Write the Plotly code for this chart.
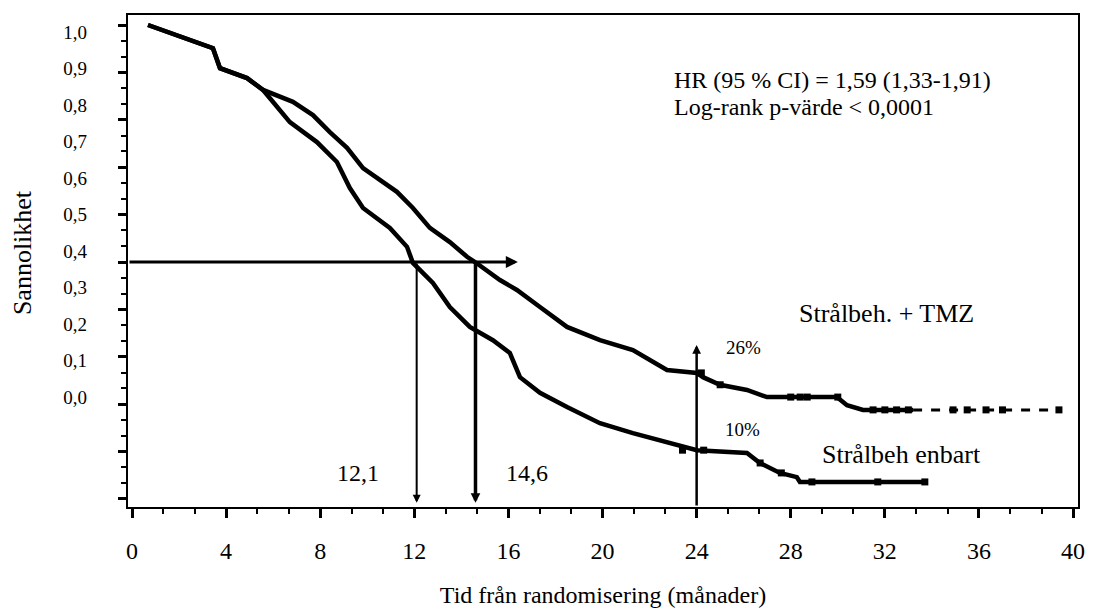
import plotly.graph_objects as go

# ---- data (months, survival probability) ----
tmz_t = [0.68, 3.44, 3.74, 4.89, 5.57, 6.84, 7.69, 8.41, 9.14, 9.82, 11.26, 11.94, 12.66,
         13.51, 14.24, 14.58, 15.64, 16.36, 17.34, 18.49, 19.89, 21.29, 22.74, 24.01,
         24.27, 24.99, 26.14, 26.99, 29.96, 30.39, 31.07, 33.2]
tmz_s = [1.000, 0.951, 0.909, 0.888, 0.863, 0.838, 0.810, 0.774, 0.741, 0.698, 0.648, 0.614,
         0.572, 0.542, 0.511, 0.500, 0.462, 0.441, 0.405, 0.363, 0.335, 0.314, 0.272, 0.266,
         0.257, 0.241, 0.230, 0.215, 0.215, 0.198, 0.188, 0.188]
tmz_tail_t = [33.2, 39.44]
tmz_tail_s = [0.188, 0.188]
tmz_cens_t = [24.2, 25.0, 28.0, 28.4, 28.7, 30.0, 31.5, 32.0, 32.5, 33.0, 34.9, 35.5, 36.3, 37.0, 39.4]
tmz_cens_s = [0.266, 0.241, 0.215, 0.215, 0.215, 0.215, 0.188, 0.188, 0.188, 0.188, 0.188,
              0.188, 0.188, 0.188, 0.188]

rt_t = [0.68, 3.44, 3.74, 4.89, 5.57, 5.99, 6.71, 7.86, 8.71, 9.26, 9.82, 10.96, 11.69, 11.94,
        12.79, 13.51, 14.36, 15.34, 16.06, 16.49, 17.34, 18.49, 19.89, 21.29, 22.74, 24.01,
        26.14, 26.69, 27.54, 28.26, 28.39, 33.79]
rt_s = [1.000, 0.951, 0.909, 0.888, 0.863, 0.838, 0.795, 0.753, 0.711, 0.656, 0.614, 0.572,
        0.532, 0.498, 0.456, 0.405, 0.363, 0.335, 0.308, 0.257, 0.224, 0.194, 0.160, 0.139,
        0.120, 0.103, 0.097, 0.076, 0.055, 0.046, 0.036, 0.036]
rt_cens_t = [23.4, 24.3, 26.7, 27.6, 28.9, 31.7, 33.7]
rt_cens_s = [0.103, 0.103, 0.076, 0.055, 0.036, 0.036, 0.036]

median_rt = 12.1
median_tmz = 14.6
landmark_t = 24
median_s = 0.5

x_ticks = [0, 4, 8, 12, 16, 20, 24, 28, 32, 36, 40]
x_tick_labels = [str(v) for v in x_ticks]
y_label_vals = [0.0, 0.1, 0.2, 0.3, 0.4, 0.5, 0.6, 0.7, 0.8, 0.9, 1.0]
y_label_text = ["0,0", "0,1", "0,2", "0,3", "0,4", "0,5", "0,6", "0,7", "0,8", "0,9", "1,0"]

FONT = "Liberation Serif"

fig = go.Figure()
fig.add_trace(go.Scatter(x=tmz_t, y=tmz_s, mode="lines", line=dict(color="black", width=4.5),
                         name="Strålbeh. + TMZ", hoverinfo="skip"))
fig.add_trace(go.Scatter(x=tmz_tail_t, y=tmz_tail_s, mode="lines",
                         line=dict(color="black", width=3, dash="dash"), hoverinfo="skip"))
fig.add_trace(go.Scatter(x=tmz_cens_t, y=tmz_cens_s, mode="markers",
                         marker=dict(symbol="square", size=7, color="black"), hoverinfo="skip"))
fig.add_trace(go.Scatter(x=rt_t, y=rt_s, mode="lines", line=dict(color="black", width=4.5),
                         name="Strålbeh enbart", hoverinfo="skip"))
fig.add_trace(go.Scatter(x=rt_cens_t, y=rt_cens_s, mode="markers",
                         marker=dict(symbol="square", size=7, color="black"), hoverinfo="skip"))
# dummy trace so the label axis is drawn
fig.add_trace(go.Scatter(x=[None], y=[None], yaxis="y2", hoverinfo="skip"))

ann = []
def arrow(x, y, ax, ay, w, size):
    ann.append(dict(x=x, y=y, ax=ax, ay=ay, xref="x", yref="y", axref="x", ayref="y",
                    text="", showarrow=True, arrowhead=2, arrowsize=size, arrowwidth=w,
                    arrowcolor="black"))

arrow(16.4, median_s, -0.17, median_s, 3, 0.8)
arrow(median_rt, -0.008, median_rt, median_s, 2, 0.8)
arrow(median_tmz, -0.008, median_tmz, median_s, 3.5, 0.55)
arrow(landmark_t, 0.325, landmark_t, -0.0169, 2.5, 0.7)

def txt(x, y, s, size, xanchor="center"):
    ann.append(dict(x=x, y=y, xref="x", yref="y", text=s, showarrow=False, xanchor=xanchor,
                    yanchor="middle", font=dict(family=FONT, size=size, color="black")))

txt(22.95, 0.884, "HR (95 % CI) = 1,59 (1,33-1,91)", 24, "left")
txt(22.95, 0.827, "Log-rank p-värde < 0,0001", 24, "left")
txt(32.09, 0.392, "Strålbeh. + TMZ", 26)
txt(26.01, 0.319, "26%", 19)
txt(25.97, 0.146, "10%", 19)
txt(32.69, 0.093, "Strålbeh enbart", 26)
txt(9.61, 0.055, "12,1", 24)
txt(16.79, 0.055, "14,6", 24)

ann.append(dict(x=-0.1116, y=0.518, xref="paper", yref="paper", text="Sannolikhet",
                textangle=-90, showarrow=False, xanchor="center", yanchor="middle",
                font=dict(family=FONT, size=26, color="black")))

fig.update_layout(
    template="none",
    width=1094, height=610, autosize=False,
    margin=dict(l=128, r=16, t=15, b=103, pad=0),
    paper_bgcolor="white", plot_bgcolor="white",
    font=dict(family=FONT, color="black"),
    showlegend=False,
    annotations=ann,
    xaxis=dict(range=[-0.17, 40.21], tickvals=x_ticks, ticktext=x_tick_labels,
               ticks="outside", ticklen=9, tickwidth=3, tickcolor="black",
               showline=True, linewidth=2, linecolor="black", mirror=True,
               showgrid=False, zeroline=False, automargin=False,
               tickfont=dict(family=FONT, size=24, color="black"),
               ticklabelstandoff=12,
               minor=dict(dtick=4/3, tick0=0, ticks="outside", ticklen=5, tickwidth=2,
                          tickcolor="black", showgrid=False),
               title=dict(text="Tid från randomisering (månader)",
                          font=dict(family=FONT, size=24, color="black"), standoff=23)),
    yaxis=dict(range=[-0.0169, 1.0211], dtick=0.1, tick0=0, ticks="outside", ticklen=8,
               tickwidth=3, tickcolor="black", showticklabels=False, automargin=False,
               showline=True, linewidth=2, linecolor="black", mirror=True,
               showgrid=False, zeroline=False,
               minor=dict(dtick=1/30, tick0=0, ticks="outside", ticklen=5, tickwidth=2,
                          tickcolor="black", showgrid=False)),
    yaxis2=dict(overlaying="y", anchor="x", side="left", range=[-0.3014, 1.0466],
                tickvals=y_label_vals, ticktext=y_label_text, ticks="", automargin=False,
                showline=False, showgrid=False, zeroline=False,
                tickfont=dict(family=FONT, size=19, color="black"),
                ticklabelstandoff=40),
)

fig.write_html("out.html", config={"displayModeBar": False},
               post_script="document.body.style.margin='0px';")
